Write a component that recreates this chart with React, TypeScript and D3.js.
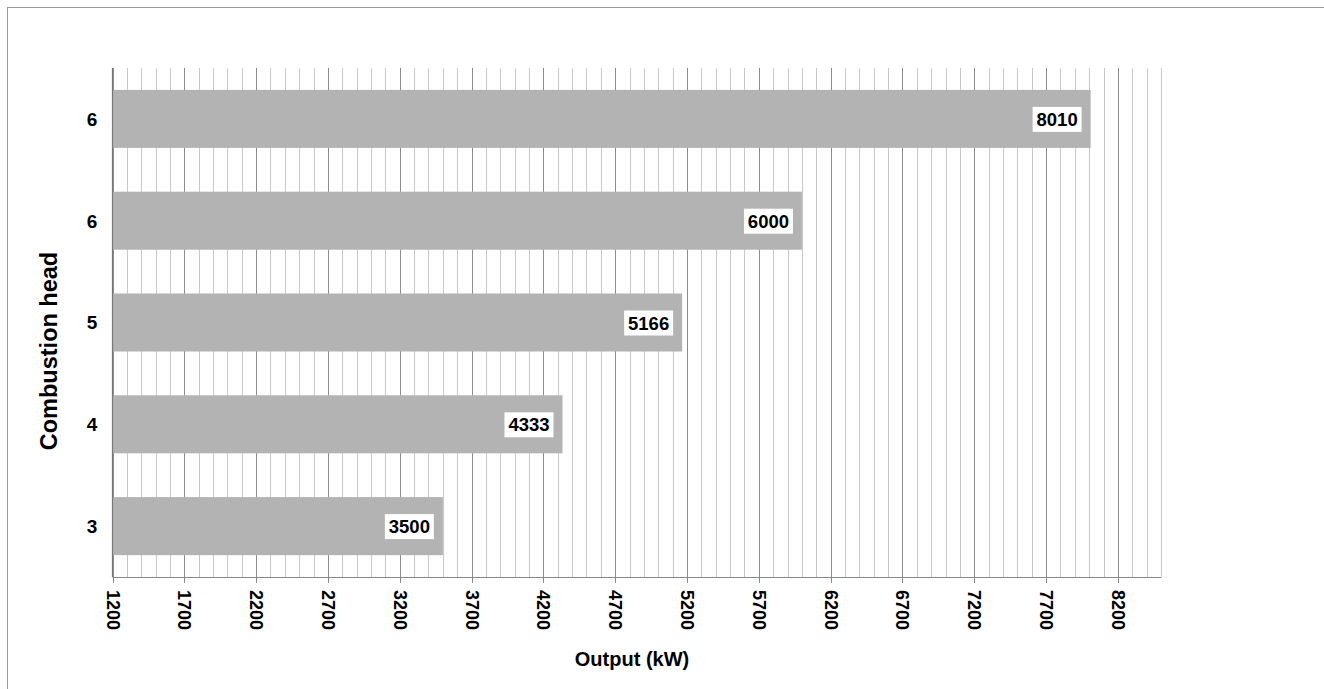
import React from "react";
import * as d3 from "d3";

const categories = ["6", "6", "5", "4", "3"];
const values = [8010, 6000, 5166, 4333, 3500];
const xMin = 1200;
const xMax = 8500;
const majorTicks = [1200, 1700, 2200, 2700, 3200, 3700, 4200, 4700, 5200, 5700, 6200, 6700, 7200, 7700, 8200];

const W = 1324;
const H = 689;
const FONT = "'Liberation Sans', Arial, sans-serif";

export default function App() {
  const left = 112.5;
  const right = 1161;
  const top = 68;
  const bottom = 577;
  const x = d3.scaleLinear().domain([xMin, xMax]).range([left, right]);
  const y = d3
    .scaleBand<number>()
    .domain(categories.map((_, i) => i))
    .range([top, bottom])
    .paddingInner(0.43)
    .paddingOuter(0.215);
  const minor = d3.range(xMin, xMax + 1, 100);
  const majorSet = new Set(majorTicks);

  return (
    <svg
      width={W}
      height={H}
      style={{ position: "absolute", left: 0, top: 0, background: "#fff" }}
      fontFamily={FONT}
    >
      <rect x={7.5} y={7.5} width={1400} height={800} fill="#fff" stroke="#9a9a9a" strokeWidth={1} />
      {minor.map((v) => (
        <line
          key={"g" + v}
          x1={Math.round(x(v)) + 0.5}
          x2={Math.round(x(v)) + 0.5}
          y1={top}
          y2={bottom}
          stroke={majorSet.has(v) ? "#8c8c8c" : "#c8c8c8"}
          strokeWidth={1}
        />
      ))}
      {values.map((v, i) => (
        <rect
          key={"b" + i}
          x={x(xMin)}
          y={y(i)!}
          width={x(v) - x(xMin)}
          height={y.bandwidth()}
          fill="#b3b3b3"
        />
      ))}
      <line x1={left} x2={left} y1={top} y2={bottom} stroke="#777" strokeWidth={1.2} />
      <line x1={left} x2={right + 0.5} y1={bottom + 0.5} y2={bottom + 0.5} stroke="#888" strokeWidth={1} />
      {majorTicks.map((v) => (
        <g key={"t" + v} transform={`translate(${Math.round(x(v)) + 0.5},${bottom})`}>
          <line y1={0} y2={6} stroke="#888" />
          <text
            transform="translate(-6.5,13) rotate(90)"
            fontSize={18}
            fontWeight="bold"
            fill="#000"
            textAnchor="start"
          >
            {v}
          </text>
        </g>
      ))}
      {categories.map((c, i) => (
        <text
          key={"c" + i}
          x={92}
          y={y(i)! + y.bandwidth() / 2}
          dy="0.36em"
          textAnchor="middle"
          fontSize={19}
          fontWeight="bold"
        >
          {c}
        </text>
      ))}
      {values.map((v, i) => {
        const bw = 49;
        const bh = 25;
        const xr = x(v) - 9;
        const cy = y(i)! + y.bandwidth() / 2 + 0.5;
        return (
          <g key={"l" + i}>
            <rect x={xr - bw} y={cy - bh / 2} width={bw} height={bh} fill="#fff" />
            <text
              x={xr - bw / 2}
              y={cy}
              dy="0.36em"
              textAnchor="middle"
              fontSize={18.5}
              fontWeight="bold"
            >
              {v}
            </text>
          </g>
        );
      })}
      <text x={632} y={666} textAnchor="middle" fontSize={20} fontWeight="bold">
        Output (kW)
      </text>
      <text
        transform={`translate(57,351) rotate(-90)`}
        textAnchor="middle"
        fontSize={23.5}
        fontWeight="bold"
      >
        Combustion head
      </text>
    </svg>
  );
}
